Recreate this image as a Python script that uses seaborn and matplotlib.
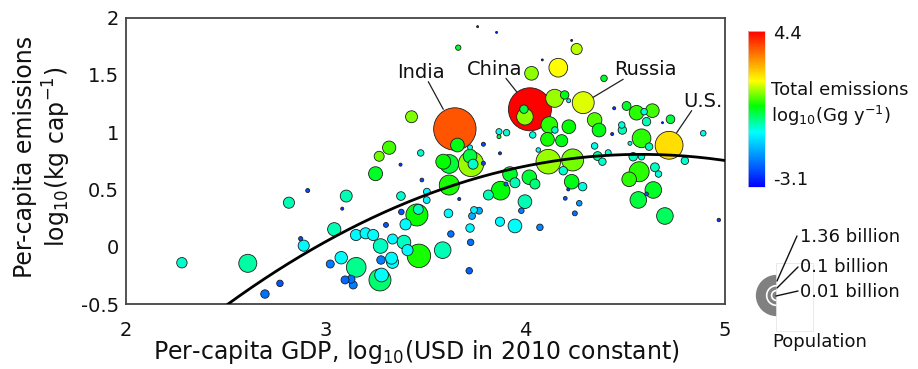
import numpy as np
import pandas as pd
import matplotlib
matplotlib.use("Agg")
import matplotlib.pyplot as plt
from matplotlib.colors import LinearSegmentedColormap, Normalize
from matplotlib.cm import ScalarMappable
from matplotlib.patches import Rectangle
import seaborn as sns

# ---- data -------------------------------------------------------------
# per-capita GDP, log10(USD 2010)
gdp = [2.28, 2.61, 2.816, 2.91, 2.875, 2.89, 2.771, 2.696, 3.043, 3.023,
       3.083, 3.103, 3.078, 3.097, 3.127, 3.138, 3.152, 3.2, 3.238, 3.153,
       3.275, 3.272, 3.28, 3.277, 3.33, 3.335, 3.302, 3.335, 3.392, 3.41,
       3.467, 3.379, 3.4, 3.377, 3.457, 3.464, 3.476, 3.482, 3.375, 3.43,
       3.318, 3.268, 3.25, 3.507, 3.506, 3.586, 3.615, 3.627, 3.723, 3.726,
       3.719, 3.733, 3.743, 3.768, 3.669, 3.619, 3.589, 3.619, 3.728, 3.723,
       3.738, 3.66, 3.647, 3.79, 3.79, 3.873, 3.923, 3.948, 3.876, 3.815,
       3.903, 3.998, 3.98, 3.873, 3.948, 4.073, 4.02, 4.048, 4.115, 4.237,
       4.19, 4.232, 4.287, 4.2, 4.27, 4.248, 4.023, 3.998, 3.993, 4.031,
       4.165, 4.257, 3.664, 4.394, 4.29, 4.147, 4.197, 4.217, 4.12, 4.148,
       4.218, 4.111, 4.182, 4.065, 4.037, 3.868, 3.906, 3.868, 4.347, 4.369,
       4.347, 4.445, 4.507, 4.557, 4.636, 4.595, 4.607, 4.483, 4.486, 4.435,
       4.582, 4.62, 4.524, 4.727, 4.72, 4.891, 4.799, 4.54, 4.582, 4.362,
       4.386, 4.415, 4.57, 4.52, 4.649, 4.667, 4.641, 4.566, 4.607, 4.699,
       4.969, 3.856, 3.761, 4.232, 4.085, 4.687, 3.723, 4.215]
# per-capita emissions, log10(kg cap-1)
per_capita = [-0.14, -0.145, 0.384, 0.49, 0.07, 0.009, -0.32, -0.413, 0.152, -0.151,
              0.332, 0.442, -0.096, -0.29, -0.284, -0.334, 0.102, 0.117, 0.102, -0.18,
              0.006, -0.29, -0.247, -0.116, -0.1, -0.136, 0.19, 0.067, 0.04, -0.03,
              -0.08, 0.303, 0.195, 0.442, 0.277, 0.326, 0.818, 0.582, 0.716, 1.134,
              0.864, 0.789, 0.637, 0.48, 0.407, -0.03, 0.291, 0.111, 0.163, 0.038,
              -0.21, 0.268, 0.32, 0.314, 0.416, 0.538, 0.742, 0.722, 0.722, 0.791,
              0.72, 0.887, 1.027, 0.894, 0.728, 0.815, 0.634, 0.558, 0.489, 0.451,
              0.547, 0.393, 0.314, 0.218, 0.181, 0.169, 0.606, 0.547, 0.742, 0.757,
              0.663, 0.567, 0.524, 0.422, 0.379, 0.291, 1.199, 1.134, 1.2, 1.513,
              1.562, 1.725, 1.737, 1.469, 1.257, 1.295, 1.324, 1.274, 1.062, 1.018,
              1.047, 0.937, 0.925, 0.844, 0.975, 1.004, 0.995, 0.96, 1.106, 1.018,
              0.879, 1.208, 1.228, 1.169, 1.187, 1.178, 1.091, 1.062, 1.018, 0.983,
              0.946, 0.873, 0.902, 1.112, 0.885, 0.99, 0.75, 0.785, 0.785, 0.791,
              0.742, 0.82, 0.654, 0.588, 0.693, 0.634, 0.495, 0.408, 0.46, 0.268,
              0.233, 1.87, 1.92, 1.8, 1.63, 1.082, 0.867, 0.5]
# population, billion
population = [0.012, 0.075, 0.015, 0.0005, 0.0006, 0.015, 0.0025, 0.006, 0.027, 0.005,
              0.0002, 0.019, 0.022, 0.005, 0.005, 0.005, 0.015, 0.015, 0.015, 0.1,
              0.037, 0.146, 0.03, 0.006, 0.019, 0.02, 0.001, 0.0105, 0.03, 0.015,
              0.18, 0.0015, 0.015, 0.0065, 0.146, 0.0105, 0.0025, 0.0004, 0.0002, 0.019,
              0.027, 0.0105, 0.032, 0.003, 0.003, 0.057, 0.0065, 0.0025, 0.006, 0.0025,
              0.0025, 0.003, 0.003, 0.003, 0.0002, 0.106, 0.04, 0.085, 0.23, 0.03,
              0.0105, 0.03, 1.3, 0.0005, 0.0005, 0.0002, 0.037, 0.0105, 0.085, 0.0105,
              0.0005, 0.03, 0.0015, 0.008, 0.03, 0.0025, 0.037, 0.0105, 0.21, 0.146,
              0.006, 0.037, 0.006, 0.0004, 0.0015, 0.001, 1.36, 0.057, 0.006, 0.03,
              0.085, 0.015, 0.0013, 0.0025, 0.144, 0.075, 0.006, 0.0005, 0.057, 0.0025,
              0.03, 0.03, 0.02, 0.0008, 0.0025, 0.002, 0.0025, 0.0005, 0.037, 0.03,
              0.0025, 0.0002, 0.007, 0.037, 0.03, 0.0025, 0.006, 0.0025, 0.006, 0.0002,
              0.085, 0.004, 0.0005, 0.0065, 0.32, 0.0015, 0.004, 0.006, 0.0025, 0.007,
              0.004, 0.002, 0.106, 0.037, 0.007, 0.0025, 0.057, 0.057, 0.0004, 0.057,
              0.0003, 0.00005, 0.00005, 0.00005, 0.00005, 0.00005, 0.001, 0.0002]
# total emissions, log10(Gg y-1)
total_emis = [-0.22, 0.0, -0.1, -2.3, -2.3, -0.5, -2.2, -1.9, -0.1, -1.8,
              -2.5, -0.1, -0.45, -2.0, -1.9, -1.8, -0.5, -0.5, -0.45, 0.1,
              -0.15, 0.25, -0.45, -1.8, -0.5, -0.45, -2.2, -0.5, -0.15, -0.5,
              0.9, -2.2, -0.5, -0.2, 0.85, -0.15, -0.2, -2.3, -2.5, 1.4,
              1.1, 1.3, 0.6, -0.5, -0.5, -0.1, -0.5, -1.9, -0.5, -1.9,
              -2.1, -1.3, -0.6, -1.3, -2.5, 0.9, 0.8, 0.55, 1.5, 0.5,
              -0.2, 0.7, 3.6, -2.3, -2.3, -2.5, 0.6, -0.1, 0.75, -0.1,
              -2.0, -0.1, -1.8, -0.5, -0.45, -1.7, 0.55, 0.2, 1.5, 1.35,
              -0.2, 0.7, -0.3, -2.2, -1.5, -1.9, 4.4, 1.45, 0.5, 1.45,
              2.0, 1.65, 0.6, 0.6, 1.85, 1.5, 0.7, -0.3, 1.0, -0.2,
              0.8, 0.9, 0.7, -0.4, -0.3, -0.4, -0.2, 0.6, 1.2, 0.7,
              -0.4, -2.5, 0.6, 1.0, 1.1, -0.3, -0.1, -0.3, -0.1, -2.5,
              1.0, -0.1, -0.3, 0.5, 2.3, -0.4, -0.2, -0.15, -0.2, 0.0,
              -0.2, -0.3, 1.0, 1.0, -0.15, -0.3, 0.6, 0.5, -2.2, 0.35,
              -2.5, -2.8, -2.8, -2.8, -2.8, -2.8, -0.4, -2.5]

# quadratic fit of per-capita emissions against per-capita GDP
curve_coefs = [-0.305, 2.794, -5.593]

# labelled countries: name, text position, leader line (text end -> bubble end)
callouts = {
    "India":  ((3.477, 1.524), (3.514, 1.44), (3.589, 1.199)),
    "China":  ((3.848, 1.542), (3.903, 1.469), (3.956, 1.353)),
    "Russia": ((4.601, 1.542), (4.49, 1.461), (4.34, 1.304)),
    "U.S.":   ((4.889, 1.271), (4.833, 1.187), (4.758, 0.995)),
}

legend_pops = [1.36, 0.1, 0.01]
legend_labels = ["1.36 billion", "0.1 billion", "0.01 billion"]

emis_range = (-3.1, 4.4)

# ---- styling ------------------------------------------------------------
sns.set_theme(style="white")
plt.rcParams["font.family"] = ["DejaVu Sans"]
plt.rcParams["axes.unicode_minus"] = False
plt.rcParams["mathtext.default"] = "regular"

cmap = LinearSegmentedColormap.from_list(
    "emis", [(0.0, "#0000ff"), (0.35, "#00ffff"), (0.52, "#00ff00"),
             (0.68, "#ffff00"), (1.0, "#ff0000")])

AREA_MAX = 958.0     # marker area (pt^2) of the most populous country
POP_MAX = 1.36


def bubble_area(pop):
    return AREA_MAX * (np.asarray(pop) / POP_MAX) ** 0.6


df = pd.DataFrame({"gdp": gdp, "per_capita": per_capita,
                   "population": population, "total": total_emis})
df["area"] = bubble_area(df["population"])
df = df.sort_values("population", ascending=False)

W, H = 918, 369
fig = plt.figure(figsize=(W / 100, H / 100), dpi=100)
ax = fig.add_axes([126 / W, 1 - 304 / H, (725 - 126) / W, (304 - 17.5) / H])

sns.scatterplot(data=df, x="gdp", y="per_capita", hue="total", palette=cmap,
                hue_norm=emis_range, size="area", sizes=(0, AREA_MAX),
                size_norm=(0, AREA_MAX), edgecolor="#1e1e1e", linewidth=0.6,
                legend=False, ax=ax, zorder=2)

xs = np.linspace(2, 5, 300)
sns.lineplot(x=xs, y=np.polyval(curve_coefs, xs), color="black", lw=2.0,
             ax=ax, zorder=3)

for name, (tpos, p0, p1) in callouts.items():
    ax.plot([p0[0], p1[0]], [p0[1], p1[1]], color="#202020", lw=0.9, zorder=4)
    ax.text(tpos[0], tpos[1], name, fontsize=14, ha="center", va="center",
            color="#111111", zorder=5)

ax.set_xlim(2, 5)
ax.set_ylim(-0.5, 2)
ax.set_xticks([2, 3, 4, 5])
ax.set_xticklabels(["2", "3", "4", "5"])
ax.set_yticks([-0.5, 0, 0.5, 1, 1.5, 2])
ax.set_yticklabels(["-0.5", "0", "0.5", "1", "1.5", "2"])
ax.tick_params(axis="both", length=0, labelsize=14, colors="#111111")
ax.tick_params(axis="x", pad=12)
ax.tick_params(axis="y", pad=5)
ax.set_xlabel("")
ax.set_ylabel("")
for sp in ax.spines.values():
    sp.set_visible(True)
    sp.set_color("#444444")
    sp.set_linewidth(1.3)

# colour bar
cax = fig.add_axes([748 / W, 1 - 187 / H, 17 / W, 156 / H])
cb = fig.colorbar(ScalarMappable(Normalize(*emis_range), cmap), cax=cax)
cb.set_ticks([])
cb.outline.set_edgecolor("#dddddd")
cb.outline.set_linewidth(0.5)

# overlay in pixel coordinates for outside text and the size key
ov = fig.add_axes([0, 0, 1, 1], zorder=10)
ov.set_xlim(0, W)
ov.set_ylim(H, 0)
ov.axis("off")

ov.text(416, 352, "Per-capita GDP, log$_{10}$(USD in 2010 constant)",
        fontsize=17, ha="center", va="center", color="#111111")
ov.text(25, 157, "Per-capita emissions", fontsize=17, rotation=90,
        ha="center", va="center", color="#111111")
ov.text(57, 157, "log$_{10}$(kg cap$^{-1}$)", fontsize=17, rotation=90,
        ha="center", va="center", color="#111111")

ov.text(773, 34, f"{emis_range[1]}", fontsize=13, ha="left", va="center",
        color="#111111")
ov.text(773, 180, f"{emis_range[0]}", fontsize=13, ha="left", va="center",
        color="#111111")
ov.text(771, 90, "Total emissions", fontsize=13, ha="left", va="center",
        color="#111111")
ov.text(771, 116, "log$_{10}$(Gg y$^{-1}$)", fontsize=13, ha="left",
        va="center", color="#111111")

# population key: nested bubbles, right halves masked
cx, cy = 775.5, 295
for p in legend_pops:
    ov.scatter([cx], [cy], s=bubble_area(p), color="#808080",
               edgecolor="white", linewidth=1.2, zorder=1)
ov.add_patch(Rectangle((cx, 263), 37.5, 68, facecolor="white",
                       edgecolor="#e2e2e2", linewidth=0.5, zorder=2))
leaders = [((797, 236), (777, 281)), ((798, 267), (777, 288)),
           ((798, 291), (776, 296))]
label_y = [237, 267, 292]
for (a, b), ty, lab in zip(leaders, label_y, legend_labels):
    ov.plot([a[0], b[0]], [a[1], b[1]], color="#111111", lw=1.0, zorder=3)
    ov.text(800, ty, lab, fontsize=13, ha="left", va="center",
            color="#111111", zorder=4)
ov.text(772, 342, "Population", fontsize=13, ha="left", va="center",
        color="#111111")

fig.savefig("out.png", dpi=100, facecolor="white")
